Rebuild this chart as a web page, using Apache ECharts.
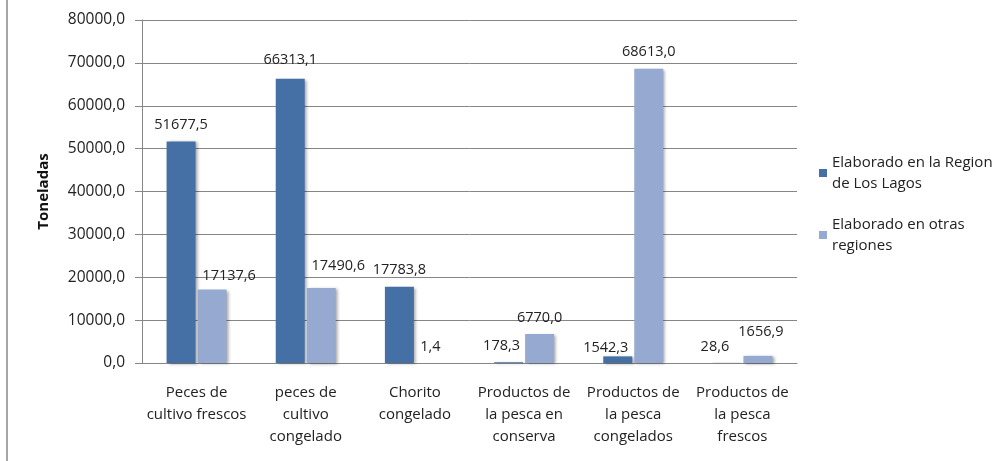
<!DOCTYPE html>
<html><head><meta charset="utf-8">
<script src="https://cdn.jsdelivr.net/npm/echarts@6/dist/echarts.min.js"></script>
<style>html,body{margin:0;padding:0;background:#fff}#c{width:1000px;height:461px}</style>
</head><body><div id="c"></div>
<script>
const categories = ['Peces de\ncultivo frescos','peces de\ncultivo\ncongelado','Chorito\ncongelado','Productos de\nla pesca en\nconserva','Productos de\nla pesca\ncongelados','Productos de\nla pesca\nfrescos'];
const seriesNames = ['Elaborado en la Region\nde Los Lagos','Elaborado en otras\nregiones'];
const losLagos = [51677.5, 66313.1, 17783.8, 178.3, 1542.3, 28.6];
const otras = [17137.6, 17490.6, 1.4, 6770.0, 68613.0, 1656.9];
const yTicks = [0, 10000, 20000, 30000, 40000, 50000, 60000, 70000, 80000];
// label nudges (Excel-style placement of data labels) [dx, dy]
const nudgeA = [[0,0],[0,-2],[0,0],[-7,0],[-12,8],[-12,0]];
const nudgeB = [[17,3],[17,-6],[0,0],[0,0],[0,0],[3,-8]];

const fmt = v => v.toFixed(1).replace('.', ',');
const font = '"Open Sans", "Liberation Sans", sans-serif';
const chart = echarts.init(document.getElementById('c'));
function mk(vals, nudges) {
  return vals.map((v, i) => ({ value: v, label: { offset: nudges[i] } }));
}
const shadow = { shadowColor: 'rgba(0,0,0,0.35)', shadowBlur: 3, shadowOffsetX: 2, shadowOffsetY: 1 };
chart.setOption({
  animation: false,
  textStyle: { fontFamily: font },
  grid: { left: 142, right: 203, top: 20, bottom: 98, containLabel: false },
  legend: {
    orient: 'vertical', left: 814, top: 147, itemWidth: 8, itemHeight: 8, itemGap: 20,
    icon: 'rect',
    textStyle: { fontSize: 15, color: '#222', lineHeight: 21, fontFamily: font },
    data: seriesNames
  },
  xAxis: {
    type: 'category', data: categories,
    axisLine: { lineStyle: { color: '#868686', width: 1 } },
    axisTick: { show: false },
    axisLabel: { color: '#222', fontSize: 15, lineHeight: 22, margin: 19, interval: 0 }
  },
  yAxis: {
    type: 'value', min: 0, max: 80000, interval: 10000,
    name: 'Toneladas', nameLocation: 'middle', nameGap: 91, nameRotate: 90,
    nameTextStyle: { fontSize: 15, fontWeight: 'bold', color: '#111' },
    axisLine: { show: true, lineStyle: { color: '#868686' } },
    axisTick: { show: true, length: 7, lineStyle: { color: '#868686' } },
    splitLine: { lineStyle: { color: '#868686', width: 1 } },
    axisLabel: { color: '#222', fontSize: 15.5, margin: 17, formatter: v => yTicks.includes(v) ? fmt(v) : '' }
  },
  series: [
    { name: seriesNames[0], type: 'bar', data: mk(losLagos, nudgeA), barGap: '7%', barCategoryGap: '45%',
      itemStyle: Object.assign({ color: '#4470A5' }, shadow),
      label: { show: true, position: 'top', distance: 9, color: '#222', fontSize: 14.5, formatter: p => fmt(p.value) } },
    { name: seriesNames[1], type: 'bar', data: mk(otras, nudgeB),
      itemStyle: Object.assign({ color: '#95A9D1' }, shadow),
      label: { show: true, position: 'top', distance: 9, color: '#222', fontSize: 14.5, formatter: p => fmt(p.value) } }
  ],
  graphic: [{ type: 'line', shape: { x1: 7, y1: 0, x2: 7, y2: 461 }, style: { stroke: '#A6A6A6', lineWidth: 2 } }]
});
</script></body></html>
